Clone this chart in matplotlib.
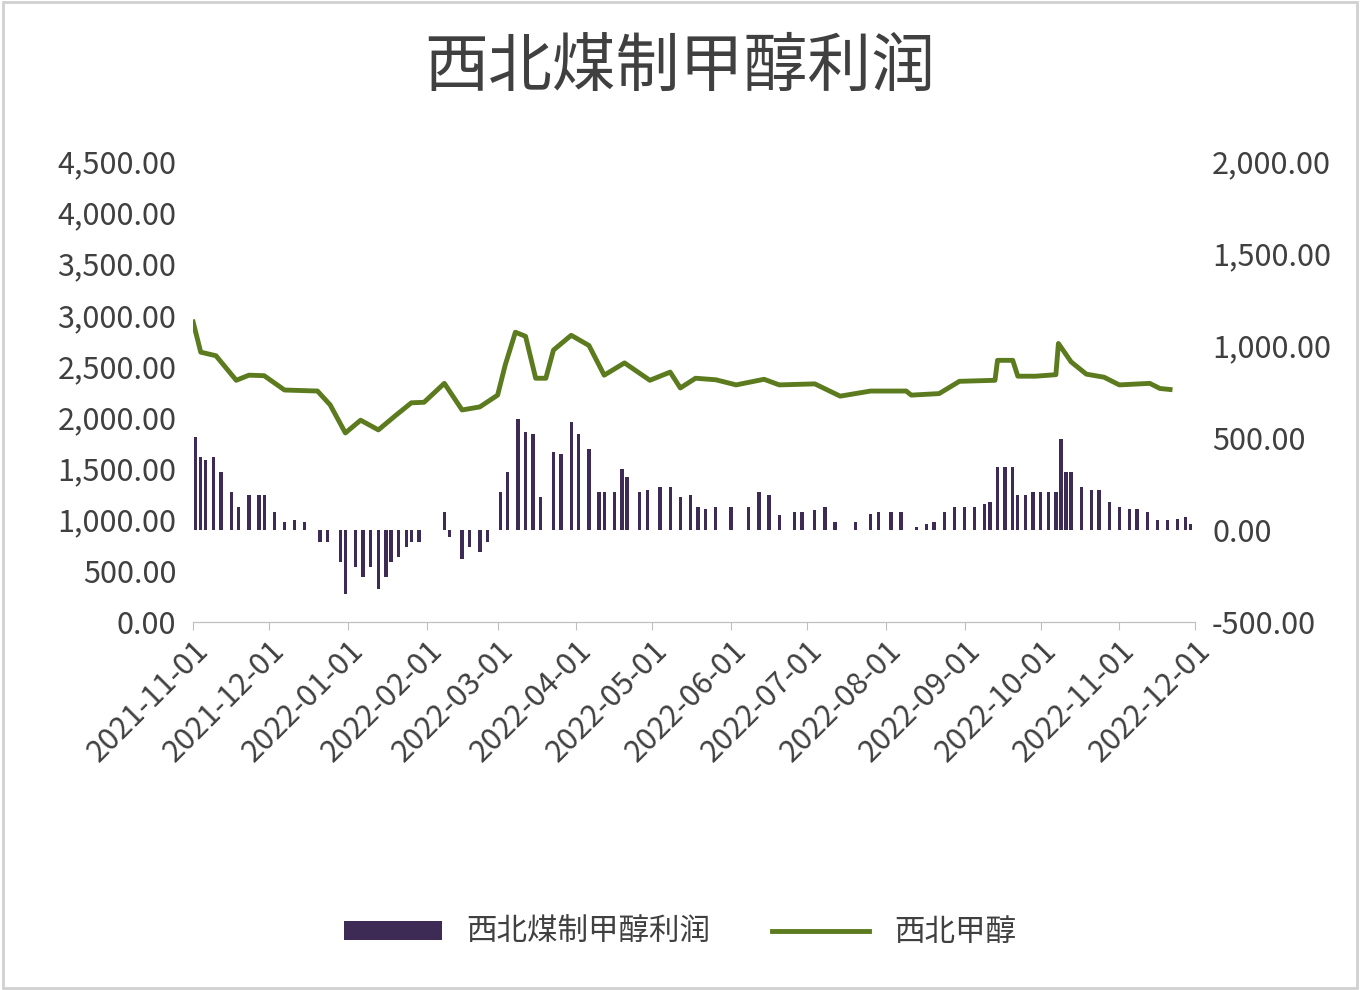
import numpy as np
import pandas as pd
import matplotlib.pyplot as plt
import matplotlib.dates as mdates
from matplotlib import font_manager
from matplotlib.ticker import FuncFormatter

names = {f.name for f in font_manager.fontManager.ttflist}
cjk = [n for n in ['Noto Sans CJK SC', 'Noto Sans CJK JP', 'Noto Sans CJK TC', 'Noto Sans CJK KR',
                   'Noto Sans SC', 'Noto Sans CJK'] if n in names]
plt.rcParams['font.family'] = cjk + ['DejaVu Sans']

start = pd.Timestamp('2021-11-01')

# 西北甲醇 (left axis)
line_days = [0, 3, 9, 17, 22, 28, 36, 49, 54, 60, 66, 73, 80, 86, 91, 99, 106, 113, 120, 123,
             127, 131, 135, 139, 142, 149, 156, 162, 170, 180, 188, 192, 198, 206, 214, 225, 231, 245, 255, 267,
             281, 283, 294, 302, 316, 317, 323, 325, 332, 340, 341, 346, 352, 359, 365, 377, 381, 385]
line_vals = [2930, 2635, 2600, 2360, 2410, 2405, 2265, 2255, 2120, 1845, 1970, 1875, 2020, 2140, 2145, 2330, 2070, 2100, 2215, 2510,
             2830, 2790, 2380, 2380, 2655, 2800, 2700, 2410, 2530, 2360, 2440, 2285, 2380, 2365, 2315, 2370, 2315, 2325, 2205, 2255,
             2255, 2215, 2230, 2350, 2360, 2555, 2555, 2400, 2400, 2415, 2720, 2540, 2420, 2390, 2315, 2330, 2280, 2270]

# 西北煤制甲醇利润 (right axis)
bar_days = [1, 3, 5, 8, 11, 15, 18, 22, 26, 28, 32, 36, 40, 44, 50, 53, 58, 60, 64, 67,
            70, 73, 76, 78, 81, 84, 86, 89, 99, 101, 106, 109, 113, 116, 121, 124, 128, 131, 134, 137,
            142, 145, 149, 152, 156, 160, 162, 166, 169, 171, 176, 179, 184, 188, 192, 196, 199, 202, 206, 212,
            219, 223, 227, 231, 237, 240, 245, 249, 253, 261, 267, 270, 275, 279, 285, 289, 292, 296, 300, 304,
            308, 312, 314, 317, 320, 323, 325, 328, 331, 334, 337, 340, 342, 344, 346, 350, 354, 357, 361, 365,
            369, 372, 376, 380, 384, 388, 391, 393]
bar_vals = [504, 396, 380, 396, 315, 206, 125, 190, 190, 190, 98, 43, 54, 43, -65, -65, -174, -347, -201, -255,
            -201, -320, -255, -174, -146, -92, -65, -65, 98, -38, -157, -92, -119, -65, 206, 315, 602, 531, 521, 179,
            423, 412, 586, 521, 439, 206, 206, 206, 331, 287, 206, 217, 233, 233, 179, 190, 125, 114, 125, 125,
            125, 206, 190, 81, 98, 98, 108, 125, 43, 43, 87, 98, 98, 98, 16, 33, 43, 98, 125, 125,
            125, 141, 152, 342, 342, 342, 190, 190, 206, 206, 206, 206, 493, 315, 315, 233, 217, 217, 152, 125,
            114, 114, 98, 54, 54, 60, 71, 33]

line_dates = start + pd.to_timedelta(line_days, unit='D')
bar_dates = start + pd.to_timedelta(bar_days, unit='D')

fig = plt.figure(figsize=(13.6, 9.9), dpi=100)
ax = fig.add_axes([0.142, 0.372, 0.737, 0.465])
ax2 = ax.twinx()

ax2.bar(bar_dates, bar_vals, width=1.3, color='#3d2b56', label='西北煤制甲醇利润', zorder=1)
ax.plot(line_dates, line_vals, color='#5b7b1e', lw=3.5, label='西北甲醇', zorder=3)
ax.set_zorder(ax2.get_zorder() + 1)
ax.patch.set_visible(False)

ax.set_ylim(0, 4500)
ax.set_yticks(np.arange(0, 4501, 500))
ax2.set_ylim(-500, 2000)
ax2.set_yticks(np.arange(-500, 2001, 500))
fmt = FuncFormatter(lambda v, p: f'{v:,.2f}')
ax.yaxis.set_major_formatter(fmt)
ax2.yaxis.set_major_formatter(fmt)

ticks = pd.date_range('2021-11-01', '2022-12-01', freq='MS')
ax.set_xlim(start, pd.Timestamp('2022-12-01'))
ax.set_xticks(ticks)
ax.xaxis.set_major_formatter(mdates.DateFormatter('%Y-%m-%d'))
plt.setp(ax.get_xticklabels(), rotation=45, ha='right', rotation_mode='anchor')

for a in (ax, ax2):
    for s in ['top', 'left', 'right']:
        a.spines[s].set_visible(False)
    a.spines['bottom'].set_color('#bfbfbf')
    a.tick_params(axis='y', length=0, labelsize=22, labelcolor='#404040', pad=12)
ax.tick_params(axis='x', length=6, color='#bfbfbf', labelsize=22, labelcolor='#404040')

fig.suptitle('西北煤制甲醇利润', fontsize=46, color='#404040', y=0.965)

h1, l1 = ax2.get_legend_handles_labels()
h2, l2 = ax.get_legend_handles_labels()
fig.legend(h1 + h2, l1 + l2, loc='center', bbox_to_anchor=(0.5, 0.058), ncol=2,
           frameon=False, fontsize=22, labelcolor='#404040', handlelength=3.2,
           handleheight=0.6, columnspacing=2.0)

fig.patches.append(plt.Rectangle((0.002, 0.002), 0.996, 0.996, transform=fig.transFigure,
                                 fill=False, edgecolor='#d0d0d0', lw=2))
fig.savefig('out.png', dpi=100)
